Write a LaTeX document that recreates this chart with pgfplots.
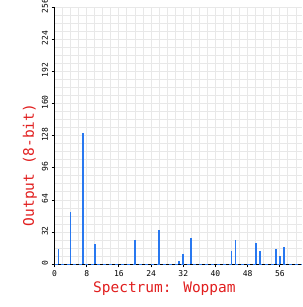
\documentclass[border=0pt]{standalone}
\usepackage{fontspec}
\setmainfont{DejaVu Sans Mono}
\usepackage{pgfplots}
\pgfplotsset{compat=1.18}
\definecolor{barblue}{RGB}{40,120,240}
\definecolor{labred}{RGB}{225,30,30}
\definecolor{gridgray}{RGB}{232,232,232}
\begin{document}
\begin{tikzpicture}
\begin{axis}[
  scale only axis,
  width=247.5pt, height=257.3pt,
  xmin=0, xmax=61.5, ymin=0, ymax=256,
  axis lines*=left,
  axis line style={black, line width=1.2pt},
  xtick={0,8,...,56}, ytick={0,32,...,256},
  minor xtick={0,2,...,62}, minor ytick={0,8,...,256},
  grid=both,
  major grid style={gridgray, line width=0.9pt},
  minor grid style={gridgray, line width=0.9pt},
  tick style={black, line width=0.8pt},
  tick align=outside,
  major tick length=3pt, minor tick length=0pt,
  /pgf/number format/assume math mode=true,
  ticklabel style={font=\fontsize{8}{9}\selectfont},
  yticklabel style={rotate=90, anchor=south, xshift=1pt},
  xlabel={Spectrum: Woppam},
  ylabel={Output (8-bit)},
  label style={font=\fontsize{14.5}{16}\selectfont, text=labred},
  xlabel style={at={(axis description cs:0.444,0)}, anchor=north, yshift=-14pt},
  ylabel style={at={(axis description cs:0,0.386)}, anchor=south, yshift=14pt},
  clip=false,
]
\addplot[ycomb, draw=barblue, line width=1.7pt, mark=none] coordinates {
  (1,15) (4,52) (7,131) (10,20) (20,24) (26,34) (31,3) (32,10) (34,26)
  (44,13) (45,24) (50,21) (51,13) (55,15) (56,8) (57,17)
};
\addplot[barblue, dashed, line width=1pt, mark=none] coordinates {(0,0) (61.5,0)};
\end{axis}
\pgfresetboundingbox
\path ([xshift=-54.5pt,yshift=-42.7pt]current axis.south west) rectangle ([yshift=7pt]current axis.north east);
\end{tikzpicture}
\end{document}
